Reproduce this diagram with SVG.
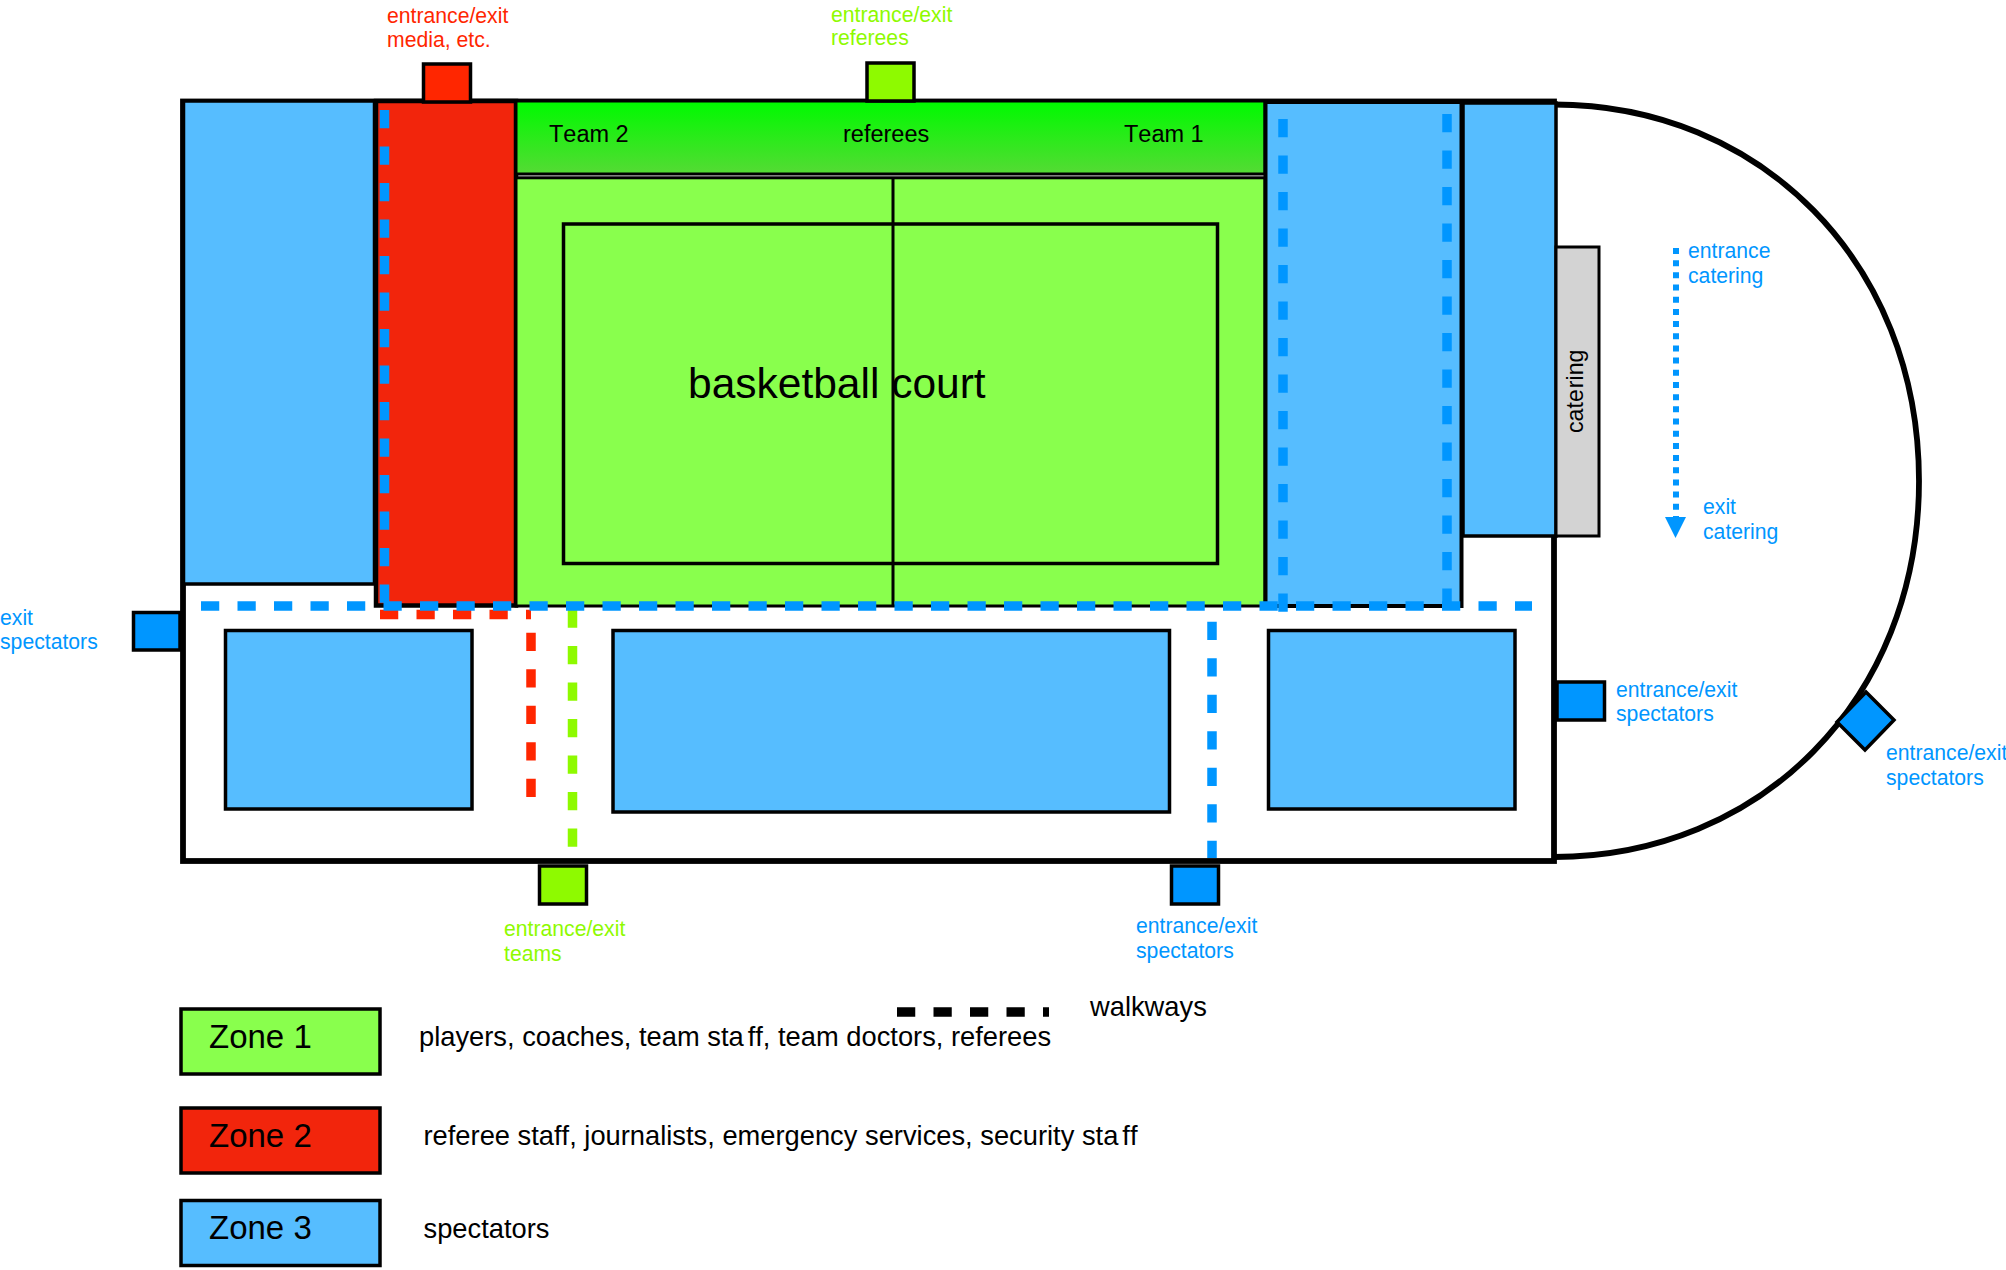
<svg xmlns="http://www.w3.org/2000/svg" width="2006" height="1270" viewBox="0 0 2006 1270">
<style>
text{font-family:"Liberation Sans",Arial,sans-serif;fill:#000;font-kerning:none}
.s{font-size:21.2px}
.t{font-size:23.500px}
.l{font-size:27.300px}
.z{font-size:33px}
.bt{fill:#0096ff}
.rt{fill:#ff2600}
.gt{fill:#8efa00}
.zone3{fill:#56bdff;stroke:#000;stroke-width:3.5}
.zone2{fill:#f2250c;stroke:#000;stroke-width:3.5}
.zone1{fill:#89ff4d;stroke:#000;stroke-width:3.5}
.ebl{fill:#0096ff;stroke:#000;stroke-width:3.5}
.erd{fill:#ff2600;stroke:#000;stroke-width:3.5}
.egr{fill:#8efa00;stroke:#000;stroke-width:3.5}
.w{fill:none;stroke-width:9.5;stroke-dasharray:18.25 18.25}
.wb{stroke:#0096ff}
.wr{stroke:#ff2600}
.wg{stroke:#8efa00}
</style>
<defs>
<linearGradient id="band" gradientUnits="userSpaceOnUse" x1="890" y1="102" x2="890" y2="173">
<stop offset="0" stop-color="#00fa00"/><stop offset="1" stop-color="#54db34"/>
</linearGradient>
<marker id="arrow" markerUnits="userSpaceOnUse" markerWidth="22" markerHeight="21" refX="11" refY="0" orient="0" overflow="visible">
<path d="M0 0H21L10.5 21Z" fill="#0096ff"/>
</marker>
</defs>
<g id="venue-frame">
<path d="M1554 104.500C1760 104.500 1919 262 1919 481C1919 700 1760 857 1554 857" fill="none" stroke="#000" stroke-width="5.800"/>
<rect x="183" y="101.500" width="1371" height="759.500" fill="#fff" stroke="#000" stroke-width="5.800"/>
<path d="M1264 102.500H1556" fill="none" stroke="#000" stroke-width="7"/>
</g>
<g id="stand-west"><rect class="zone3" x="183.500" y="101" width="191" height="483"/></g>
<g id="zone2-area"><rect class="zone2" x="376" y="101" width="140" height="504.500" style="stroke-width:4.500"/></g>
<g id="team-bench">
<rect x="516" y="101" width="749" height="73" fill="url(#band)" stroke="#000" stroke-width="3"/>
<text class="t" x="549" y="142">Team 2</text>
<text class="t" x="843" y="142">referees</text>
<text class="t" x="1124" y="142">Team 1</text>
</g>
<g id="court">
<rect class="zone1" x="516" y="177.800" width="749" height="428.200" style="stroke-width:3"/>
<rect class="zone1" x="563.500" y="224" width="654" height="339.500"/>
<path d="M893 177V606" fill="none" stroke="#000" stroke-width="3"/>
<text x="688" y="398" style="font-size:42.500px">basketball court</text>
</g>
<g id="stand-east"><rect class="zone3" x="1265.500" y="102" width="196" height="504" style="stroke-width:4"/></g>
<g id="stand-north-east"><rect class="zone3" x="1463" y="103" width="93" height="433" style="stroke-width:3.500"/></g>
<g id="catering">
<rect x="1556" y="247" width="43" height="289" fill="#d3d3d3" stroke="#000" stroke-width="3"/>
<text transform="translate(1583 433) rotate(-90)" style="font-size:23.200px">cate<tspan dx="1">ring</tspan></text>
</g>
<g id="stand-south-west"><rect class="zone3" x="225.500" y="630.500" width="246.500" height="178.500"/></g>
<g id="stand-south"><rect class="zone3" x="613" y="630.500" width="556.500" height="181.500"/></g>
<g id="stand-south-east"><rect class="zone3" x="1268.500" y="630.500" width="246.500" height="178.500"/></g>
<g id="connectors">
<path class="w wb" d="M384.500 110V606"/>
<path class="w wb" d="M1283 119V612"/>
<path class="w wb" d="M1447 114V606"/>
<path class="w wr" d="M380 614.500H531"/>
<path class="w wr" d="M531 614.500V797" stroke-dashoffset="18.25"/>
<path class="w wg" d="M572.500 609.500V847"/>
<path class="w wb" d="M201 606H1532"/>
<path class="w wb" d="M1212 621.700V858"/>
<path d="M1676 248V517" fill="none" stroke="#0096ff" stroke-width="6" stroke-dasharray="6 6.180" marker-end="url(#arrow)"/>
</g>
<g id="entrance-media"><rect class="erd" x="423.500" y="64" width="47" height="38"/>
<text class="s rt" x="387" y="23">entrance/exit</text><text class="s rt" x="387" y="47">media, etc.</text></g>
<g id="entrance-referees"><rect class="egr" x="867" y="63" width="47" height="38"/>
<text class="s gt" x="831" y="22">entrance/exit</text><text class="s gt" x="831" y="45">referees</text></g>
<g id="exit-west"><rect class="ebl" x="133.500" y="612.500" width="46.500" height="37.500"/>
<text class="s bt" x="0" y="625">exit</text><text class="s bt" x="0" y="649">spectators</text></g>
<g id="entrance-teams"><rect class="egr" x="539.500" y="866" width="47" height="38"/>
<text class="s gt" x="504" y="936">entrance/exit</text><text class="s gt" x="504" y="961">teams</text></g>
<g id="entrance-south"><rect class="ebl" x="1171.500" y="866" width="47" height="38"/>
<text class="s bt" x="1136" y="933">entrance/exit</text><text class="s bt" x="1136" y="958">spectators</text></g>
<g id="entrance-east"><rect class="ebl" x="1557" y="682" width="47.500" height="38"/>
<text class="s bt" x="1616" y="697">entrance/exit</text><text class="s bt" x="1616" y="721">spectators</text></g>
<g id="entrance-arc"><path class="ebl" d="M1866 692L1894 720L1865 750L1837 722Z"/>
<text class="s bt" x="1886" y="760">entrance/exit</text><text class="s bt" x="1886" y="785">spectators</text></g>
<g id="catering-labels">
<text class="s bt" x="1688" y="258">entrance</text><text class="s bt" x="1688" y="283">catering</text>
<text class="s bt" x="1703" y="514">exit</text><text class="s bt" x="1703" y="539">catering</text>
</g>
<g id="legend-zone1"><rect class="zone1" x="181" y="1009" width="199" height="65"/>
<text class="z" x="209" y="1048">Zone 1</text>
<text class="l" x="419" y="1046">players, coaches, team sta<tspan dx="4">ff</tspan>, team doctors, referees</text></g>
<g id="legend-zone2"><rect class="zone2" x="181" y="1108" width="199" height="65"/>
<text class="z" x="209" y="1147">Zone 2</text>
<text class="l" x="423.500" y="1145">referee staff, journalists, emergency services, security sta<tspan dx="4">ff</tspan></text></g>
<g id="legend-zone3"><rect class="zone3" x="181" y="1200.500" width="199" height="65"/>
<text class="z" x="209" y="1239">Zone 3</text>
<text class="l" x="423.500" y="1238">spectators</text></g>
<g id="legend-walkways">
<path d="M897 1012H1049" fill="none" stroke="#000" stroke-width="9.500" stroke-dasharray="18.25 18.25"/>
<text class="l" x="1090" y="1016">walkways</text></g>
</svg>
